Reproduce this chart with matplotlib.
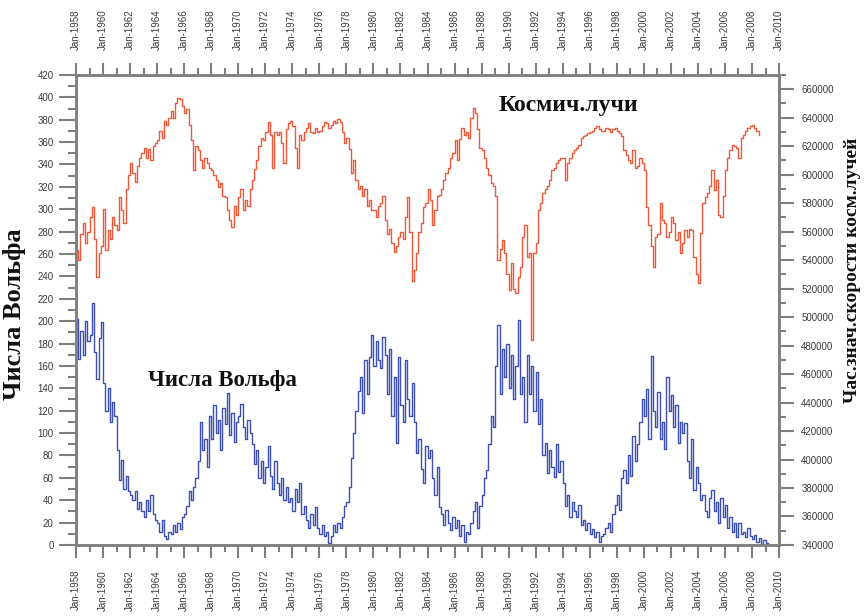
import matplotlib
matplotlib.use("Agg")
import matplotlib.pyplot as plt
import matplotlib.dates as mdates
from matplotlib.ticker import MultipleLocator, FormatStrFormatter
import pandas as pd

# Monthly-ish Wolf numbers, two-month steps starting Jan 1958
wolf_numbers = [
    202, 166, 191, 170, 200, 182,   # 1958
    188, 216, 172, 148, 185, 199,   # 1959
    145, 120, 140, 110, 128, 115,   # 1960
    85, 58, 76, 50, 62, 48,         # 1961
    45, 40, 48, 32, 38, 30,         # 1962
    25, 40, 30, 45, 28, 22,         # 1963
    20, 12, 22, 8, 5, 12,           # 1964
    10, 18, 12, 20, 14, 25,         # 1965
    28, 35, 48, 40, 52, 60,         # 1966
    75, 110, 85, 95, 70, 115,       # 1967
    95, 125, 100, 112, 85, 122,     # 1968
    108, 136, 98, 118, 92, 110,     # 1969
    115, 126, 105, 95, 112, 100,    # 1970
    90, 72, 85, 60, 75, 55,         # 1971
    70, 88, 62, 50, 75, 55,         # 1972
    45, 60, 40, 52, 38, 42,         # 1973
    30, 50, 38, 55, 28, 35,         # 1974
    22, 15, 28, 18, 34, 15,         # 1975
    10, 18, 8, 12, 2, 8,            # 1976
    18, 12, 20, 15, 25, 35,         # 1977
    38, 52, 78, 100, 120, 138,      # 1978
    150, 118, 165, 135, 168, 188,   # 1979
    160, 182, 165, 158, 186, 170,   # 1980
    135, 175, 115, 150, 91, 168,    # 1981
    125, 110, 165, 130, 115, 145,   # 1982
    110, 82, 95, 68, 55, 88,        # 1983
    78, 85, 60, 45, 70, 34,         # 1984
    28, 18, 31, 20, 13, 25,         # 1985
    15, 22, 8, 18, 3, 12,           # 1986
    10, 20, 30, 38, 15, 35,         # 1987
    45, 60, 67, 90, 115, 105,       # 1988
    160, 197, 135, 175, 150, 180,   # 1989
    140, 170, 130, 160, 201, 135,   # 1990
    150, 110, 170, 135, 160, 120,   # 1991
    155, 108, 130, 80, 91, 64,      # 1992
    85, 70, 61, 90, 65, 75,         # 1993
    55, 35, 45, 25, 38, 30,         # 1994
    25, 36, 18, 22, 13, 20,         # 1995
    10, 14, 7, 12, 3, 8,            # 1996
    10, 15, 20, 12, 28, 36,         # 1997
    45, 31, 60, 67, 55, 80,         # 1998
    62, 97, 75, 90, 110, 130,       # 1999
    115, 139, 95, 169, 120, 105,    # 2000
    137, 95, 110, 86, 150, 120,     # 2001
    134, 105, 125, 91, 110, 100,    # 2002
    109, 75, 60, 95, 49, 70,        # 2003
    55, 40, 45, 30, 25, 42,         # 2004
    49, 30, 38, 20, 42, 25,         # 2005
    36, 15, 25, 12, 20, 7,          # 2006
    20, 10, 12, 7, 15, 8,           # 2007
    5, 9, 3, 6, 1, 4,               # 2008
    2, 2,                           # 2009
]

# Hourly cosmic-ray count rate, same two-month steps
cosmic_rays = [
    547000, 540000, 558000, 566000, 552000, 560000,   # 1958
    570000, 577000, 555000, 528000, 545000, 550000,   # 1959
    576000, 547000, 561000, 555000, 570000, 565000,   # 1960
    561000, 584000, 575000, 566000, 590000, 600000,   # 1961
    608000, 601000, 595000, 606000, 612000, 615000,   # 1962
    619000, 612000, 618000, 610000, 620000, 622000,   # 1963
    624000, 631000, 626000, 638000, 635000, 640000,   # 1964
    645000, 640000, 650000, 654000, 653000, 648000,   # 1965
    643000, 646000, 635000, 624000, 603000, 620000,   # 1966
    617000, 610000, 605000, 612000, 608000, 605000,   # 1967
    603000, 600000, 596000, 591000, 594000, 585000,   # 1968
    584000, 575000, 568000, 563000, 578000, 572000,   # 1969
    584000, 590000, 575000, 582000, 578000, 590000,   # 1970
    596000, 604000, 610000, 620000, 626000, 624000,   # 1971
    630000, 637000, 628000, 605000, 630000, 628000,   # 1972
    630000, 622000, 608000, 632000, 636000, 638000,   # 1973
    634000, 619000, 605000, 628000, 624000, 630000,   # 1974
    633000, 636000, 630000, 629000, 633000, 630000,   # 1975
    631000, 634000, 637000, 636000, 633000, 635000,   # 1976
    638000, 636000, 639000, 637000, 630000, 622000,   # 1977
    626000, 618000, 601000, 610000, 596000, 590000,   # 1978
    592000, 585000, 590000, 578000, 582000, 575000,   # 1979
    575000, 570000, 578000, 580000, 585000, 568000,   # 1980
    558000, 562000, 552000, 546000, 550000, 556000,   # 1981
    560000, 555000, 570000, 584000, 560000, 525000,   # 1982
    533000, 545000, 560000, 566000, 577000, 580000,   # 1983
    590000, 582000, 565000, 575000, 585000, 586000,   # 1984
    590000, 596000, 601000, 605000, 612000, 615000,   # 1985
    624000, 610000, 625000, 633000, 628000, 630000,   # 1986
    626000, 640000, 647000, 643000, 632000, 619000,   # 1987
    617000, 612000, 605000, 600000, 594000, 592000,   # 1988
    585000, 540000, 548000, 554000, 545000, 530000,   # 1989
    519000, 538000, 520000, 517000, 528000, 535000,   # 1990
    556000, 565000, 542000, 545000, 484000, 545000,   # 1991
    552000, 575000, 580000, 587000, 590000, 592000,   # 1992
    596000, 603000, 605000, 608000, 610000, 612000,   # 1993
    612000, 596000, 608000, 612000, 615000, 617000,   # 1994
    619000, 621000, 626000, 627000, 628000, 629000,   # 1995
    630000, 631000, 633000, 634000, 632000, 631000,   # 1996
    631000, 633000, 632000, 630000, 632000, 633000,   # 1997
    631000, 629000, 627000, 617000, 614000, 610000,   # 1998
    608000, 617000, 605000, 606000, 612000, 608000,   # 1999
    603000, 577000, 565000, 550000, 535000, 556000,   # 2000
    558000, 580000, 568000, 566000, 556000, 560000,   # 2001
    570000, 566000, 554000, 560000, 545000, 552000,   # 2002
    561000, 556000, 562000, 561000, 542000, 530000,   # 2003
    524000, 559000, 580000, 584000, 587000, 592000,   # 2004
    603000, 589000, 596000, 572000, 570000, 585000,   # 2005
    603000, 612000, 617000, 621000, 620000, 619000,   # 2006
    612000, 626000, 628000, 631000, 633000, 634000,   # 2007
    635000, 633000, 631000, 628000,                   # 2008
]

wolf_dates = pd.date_range("1958-01-01", periods=len(wolf_numbers), freq="2MS")
cosmic_dates = pd.date_range("1958-01-01", periods=len(cosmic_rays), freq="2MS")

axis_grey = "#7f7f7f"
label_grey = "#3a3a3a"

fig = plt.figure(figsize=(8.65, 6.16), dpi=100)
ax = fig.add_axes([0.0879, 0.1153, 0.8127, 0.763])
ax2 = ax.twinx()

ax.plot(wolf_dates, wolf_numbers, drawstyle="steps-post", color="#3d4fb4", lw=1.0)
ax2.plot(cosmic_dates, cosmic_rays, drawstyle="steps-post", color="#f0583a", lw=1.0)

ax.set_xlim(pd.Timestamp("1958-01-01"), pd.Timestamp("2010-01-01"))
ax.set_ylim(0, 420)
ax2.set_ylim(340000, 670000)

ax.xaxis.set_major_locator(mdates.YearLocator(2, month=1, day=1))
ax.xaxis.set_minor_locator(mdates.YearLocator(1, month=1, day=1))
ax.xaxis.set_major_formatter(mdates.DateFormatter("%b-%Y"))
ax.yaxis.set_major_locator(MultipleLocator(20))
ax.yaxis.set_minor_locator(MultipleLocator(10))
ax2.yaxis.set_major_locator(MultipleLocator(20000))
ax2.yaxis.set_minor_locator(MultipleLocator(10000))
ax2.yaxis.set_major_formatter(FormatStrFormatter("%d"))

for a in (ax, ax2):
    for sp in a.spines.values():
        sp.set_color(axis_grey)
        sp.set_linewidth(1.8)

ax.tick_params(axis="x", which="both", top=True, labeltop=True, bottom=True,
               labelbottom=True, direction="out", color=axis_grey, width=1.5,
               labelsize=7, labelcolor=label_grey, labelrotation=90)
ax.tick_params(axis="x", which="major", length=9, pad=9)
ax.tick_params(axis="x", which="minor", length=5)
ax.tick_params(axis="y", which="both", direction="out", color=axis_grey,
               width=1.5, labelsize=7, labelcolor=label_grey)
ax.tick_params(axis="y", which="major", length=12, pad=4)
ax.tick_params(axis="y", which="minor", length=6)
ax2.tick_params(axis="y", which="both", direction="out", color=axis_grey,
                width=1.5, labelsize=7, labelcolor=label_grey)
ax2.tick_params(axis="y", which="major", length=11, pad=5)
ax2.tick_params(axis="y", which="minor", length=5)

for lbl in ax.get_xticklabels(which="both"):
    lbl.set_fontfamily("Liberation Sans")
for lbl in ax.get_yticklabels() + ax2.get_yticklabels():
    lbl.set_fontfamily("Liberation Sans")

title_font = dict(family="Liberation Serif", weight="bold", color="#111111")
ax.set_ylabel("Числа Вольфа", fontsize=19, va="center", **title_font)
ax.yaxis.set_label_coords(-0.087, 0.49)
ax2.set_ylabel("Час.знач.скорости косм.лучей", fontsize=14, va="center",
               **title_font)
ax2.yaxis.set_label_coords(1.104, 0.585)

ax.text(0.208, 0.351, "Числа Вольфа", transform=ax.transAxes, fontsize=16.5,
        ha="center", va="center", **title_font)
ax.text(0.701, 0.936, "Космич.лучи", transform=ax.transAxes, fontsize=17,
        ha="center", va="center", **title_font)

fig.savefig("out.png", dpi=100)
